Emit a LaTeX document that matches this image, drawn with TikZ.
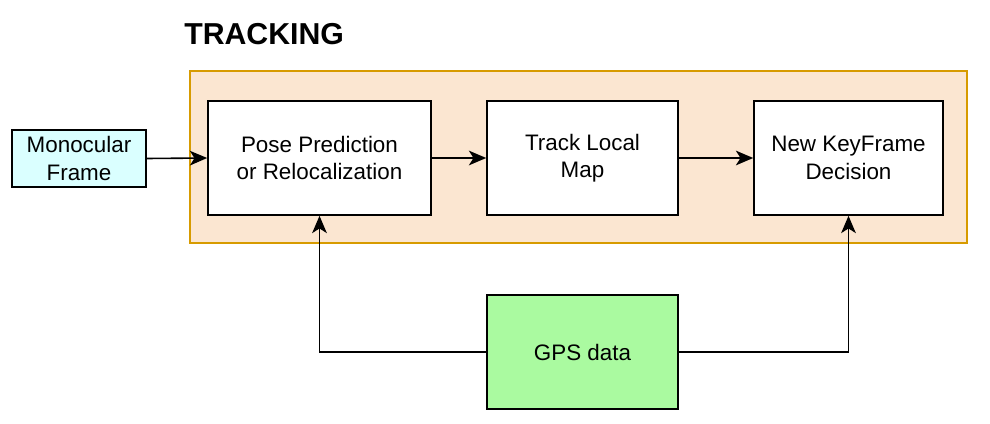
\documentclass[tikz,border=0pt]{standalone}
\usepackage{fontspec}
\setmainfont{Liberation Sans}
\usetikzlibrary{arrows.meta,positioning}
\definecolor{contfill}{HTML}{FBE6D1}
\definecolor{contdraw}{HTML}{D79B00}
\definecolor{cyanfill}{HTML}{DAFFFF}
\definecolor{greenfill}{HTML}{AAFAA0}
\tikzset{
  box/.style={draw=black, line width=1.2pt, fill=white, align=center, inner sep=0pt,
    font=\fontsize{16.8}{20.5}\selectfont},
  conn/.style={line width=1.2pt, -{Stealth[length=13pt,width=11pt,inset=3.5pt]}},
}
\begin{document}
\begin{tikzpicture}[x=0.75pt,y=-0.75pt]
\useasboundingbox (0,0) rectangle (990,424);
\node[draw=contdraw, fill=contfill, line width=1.2pt, minimum width=582.75pt, minimum height=129pt, inner sep=0pt] (cont) at (578.5,157) {};
\node[anchor=west, inner sep=0pt, font=\fontsize{22.7}{27}\selectfont\bfseries] (title) at (184,34) {TRACKING};
\node[box, fill=cyanfill, minimum width=100.5pt, minimum height=42.75pt] (mono) at (79,158.5) {Monocular\\Frame};
\node[box, minimum width=167.25pt, minimum height=85.5pt] (pose) at (319.5,158) {Pose Prediction\\or Relocalization};
\node[box, minimum width=143.25pt, minimum height=85.5pt] (track) at (582.5,158) {Track Local\\Map};
\node[box, minimum width=141.75pt, minimum height=85.5pt] (kf) at (848.5,158) {New KeyFrame\\Decision};
\node[box, fill=greenfill, minimum width=143.25pt, minimum height=85.5pt] (gps) at (582.5,352) {GPS data};
\draw[conn] (mono.east) -- (pose.west);
\draw[conn] (pose.east) -- (track.west);
\draw[conn] (track.east) -- (kf.west);
\draw[conn] (gps.west) -| (pose.south);
\draw[conn] (gps.east) -| (kf.south);
\end{tikzpicture}
\end{document}
